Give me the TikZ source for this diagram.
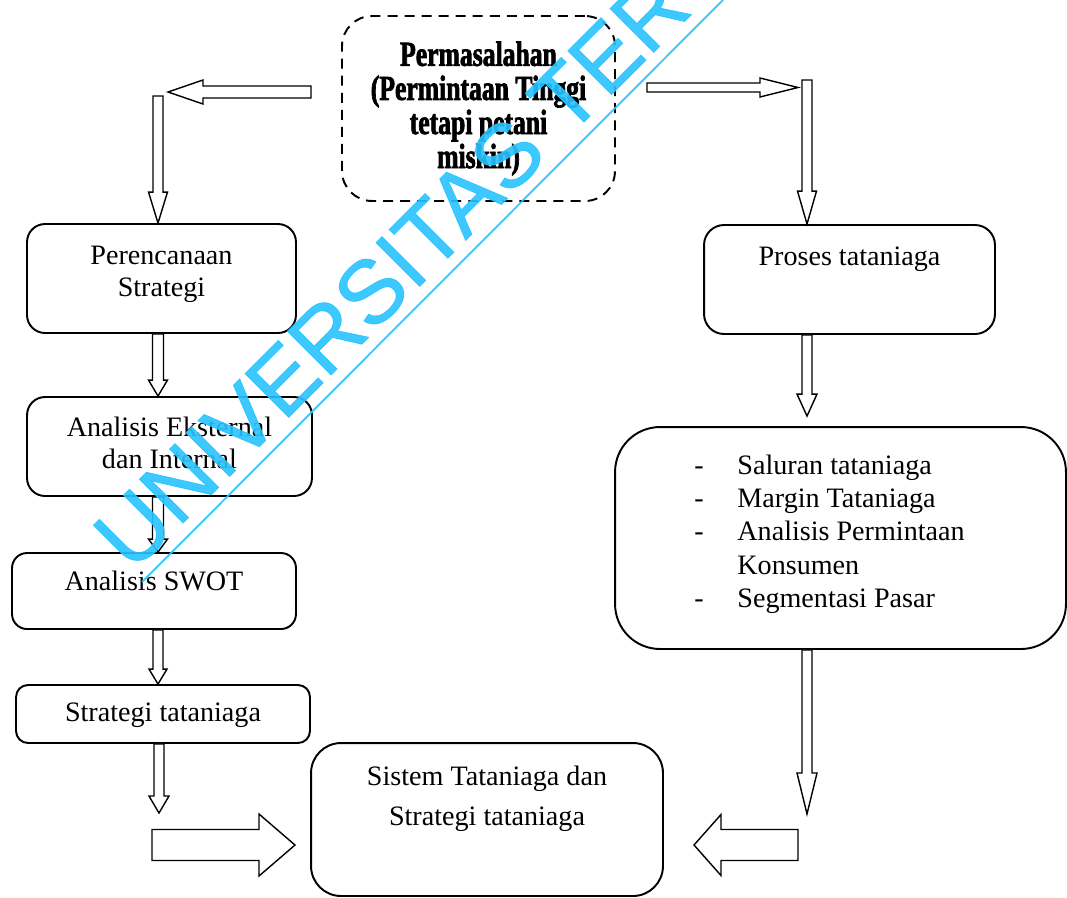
\documentclass[tikz,border=0pt]{standalone}
\usepackage{fontspec}
\setmainfont{Liberation Serif}
\newfontfamily\titlefont{Liberation Serif}[FakeStretch=0.73, FakeBold=2]
\newfontfamily\wmfont{Liberation Sans}[FakeBold=1]
\usepackage{tikz}
\usetikzlibrary{calc, positioning}
\definecolor{wmcyan}{RGB}{40,195,255}

\tikzset{
  box/.style={draw, line width=1.1pt, rounded corners=#1, inner sep=0pt},
  box/.default=0.36cm,
  txt/.style={align=center, inner sep=0pt, font=\fontsize{16}{18.2}\selectfont},
  ba shaft/.store in=\bashaft, ba head/.store in=\bahead, ba len/.store in=\balen,
  ba shaft=0.1cm, ba head=0.2cm, ba len=0.6cm,
  blockarrow/.style={draw, line width=0.8pt, fill=white, to path={
      ($(\tikztotarget)!\balen!(\tikztostart)$) coordinate (ba-b)
      ($(\tikztostart)!\bashaft!90:(\tikztotarget)$)
      -- ($(ba-b)!\bashaft!90:(\tikztotarget)$)
      -- ($(ba-b)!\bahead!90:(\tikztotarget)$)
      -- (\tikztotarget)
      -- ($(ba-b)!\bahead!-90:(\tikztotarget)$)
      -- ($(ba-b)!\bashaft!-90:(\tikztotarget)$)
      -- ($(\tikztostart)!\bashaft!-90:(\tikztotarget)$) -- cycle}},
}

\begin{document}
\begin{tikzpicture}[x=0.02cm, y=-0.02cm]
\useasboundingbox (0,0) rectangle (1067,897);
\clip (0,0) rectangle (1067,897);

% permasalahan
\node[box=0.6cm, dash pattern=on 5.7pt off 4pt, minimum width=5.46cm, minimum height=3.7cm,
  align=center, font=\titlefont\bfseries\fontsize{20}{19.4}\selectfont] (prob) at (478.5,108.5)
  {Permasalahan\\(Permintaan Tinggi\\tetapi petani\\miskin)};

% kolom kiri
\node[box, minimum width=5.38cm, minimum height=2.18cm] (plan) at (161.5,278.5) {};
\node[txt, below=0.45cm of plan.north] (plan-t) {Perencanaan\\Strategi};
\node[box, minimum width=5.7cm, minimum height=1.98cm] (ext) at (169.5,446.5) {};
\node[txt, below=0.42cm of ext.north] (ext-t) {Analisis Eksternal\\dan Internal};
\node[box=0.3cm, minimum width=5.68cm, minimum height=1.52cm] (swot) at (154,591) {};
\node[txt, below=0.38cm of swot.north] (swot-t) {Analisis SWOT};
\node[box=0.24cm, minimum width=5.88cm, minimum height=1.16cm] (strat) at (163,714) {};
\node[txt, below=0.36cm of strat.north] (strat-t) {Strategi tataniaga};

% kolom kanan
\node[box=0.4cm, minimum width=5.82cm, minimum height=2.18cm] (proc) at (849.5,279.5) {};
\node[txt, below=0.44cm of proc.north] (proc-t) {Proses tataniaga};
\node[box=0.9cm, minimum width=9.02cm, minimum height=4.44cm] (sal) at (840.5,538) {};
\node[txt, align=left, anchor=north west, font=\fontsize{16}{18.8}\selectfont] (sal-t)
  at ($(sal.north west)+(80,29)$)
  {\makebox[0.86cm][l]{-}Saluran tataniaga\\
   \makebox[0.86cm][l]{-}Margin Tataniaga\\
   \makebox[0.86cm][l]{-}Analisis Permintaan\\
   \makebox[0.86cm][l]{}Konsumen\\
   \makebox[0.86cm][l]{-}Segmentasi Pasar};

% hasil
\node[box=0.6cm, minimum width=7.04cm, minimum height=3.06cm] (sys) at (487,819.5) {};
\node[txt, font=\fontsize{16}{22.8}\selectfont, below=0.48cm of sys.north] (sys-t)
  {Sistem Tataniaga dan\\Strategi tataniaga};

% ujung panah bebas
\coordinate (tl-s) at (311,92);
\coordinate (tl-e) at (168,92);
\coordinate (lv-s) at (158,96);
\coordinate (tr-s) at (647,87.5);
\coordinate (tr-e) at (798,87.5);
\coordinate (rv-s) at (807,80);
\coordinate (lv-e) at (159,813);
\coordinate (rv-e) at (807,814);
\coordinate (br-s) at (152,845);
\coordinate (br-e) at (295,845);
\coordinate (bl-s) at (798,845);
\coordinate (bl-e) at (694,845);

% panah kiri
\draw[blockarrow, ba shaft=0.12cm, ba head=0.24cm, ba len=0.7cm] (tl-s) to (tl-e);
\draw[blockarrow, ba head=0.19cm, ba len=0.62cm] (lv-s) to (lv-s |- plan.north);
\draw[blockarrow, ba shaft=0.11cm, ba head=0.19cm, ba len=0.32cm] (plan.south -| lv-s) to (ext.north -| lv-s);
\draw[blockarrow, ba shaft=0.11cm, ba head=0.19cm, ba len=0.26cm] (ext.south -| lv-s) to (swot.north -| lv-s);
\draw[blockarrow, ba head=0.18cm, ba len=0.3cm] (swot.south -| lv-s) to (strat.north -| lv-s);
\draw[blockarrow, ba len=0.34cm] (strat.south -| lv-e) to (lv-e);
\draw[blockarrow, ba shaft=0.31cm, ba head=0.62cm, ba len=0.72cm] (br-s) to (br-e);

% panah kanan
\draw[blockarrow, ba shaft=0.09cm, ba head=0.19cm, ba len=0.76cm] (tr-s) to (tr-e);
\draw[blockarrow, ba head=0.19cm, ba len=0.66cm] (rv-s) to (rv-s |- proc.north);
\draw[blockarrow, ba len=0.44cm] (proc.south -| rv-s) to ($(sal.north -| rv-s)+(0,-10)$);
\draw[blockarrow, ba len=0.82cm] (sal.south -| rv-e) to (rv-e);
\draw[blockarrow, ba shaft=0.31cm, ba head=0.61cm, ba len=0.54cm] (bl-s) to (bl-e);

% watermark
\coordinate (wm-a) at (142,582);
\coordinate (wm-b) at (723,0);
\draw[wmcyan, opacity=0.9, line width=1.1pt] (wm-a) -- (wm-b);
\node[wmcyan, opacity=0.9, rotate=45, anchor=base west, inner sep=0pt,
  font=\wmfont\fontsize{51}{52}\selectfont] (wm) at (132,574) {UNIVERSITAS TER};
\end{tikzpicture}
\end{document}
